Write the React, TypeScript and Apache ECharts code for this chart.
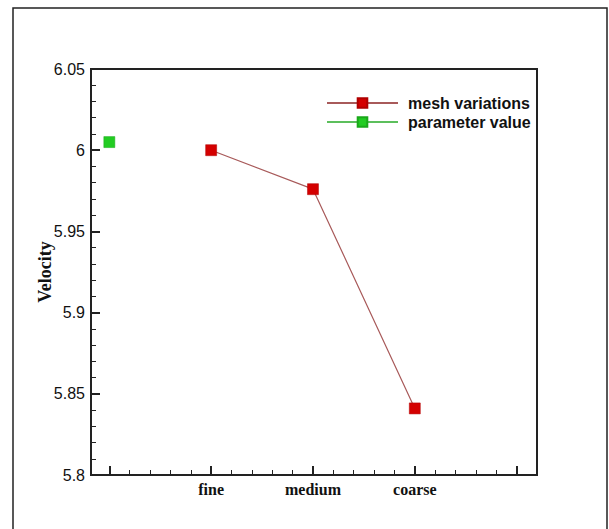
import React, { useEffect, useRef } from "react";
import * as echarts from "echarts";

const categories = ["fine", "medium", "coarse"];
const categoryPositions = [1, 2, 3];
const meshValues = [6.0, 5.976, 5.841];
const parameterPosition = 0;
const parameterValue = 6.005;
const xMajorTicks = [0, 1, 2, 3, 4];
const xMinorTicks = [
  0.2, 0.4, 0.6, 0.8, 1.2, 1.4, 1.6, 1.8, 2.2, 2.4, 2.6, 2.8, 3.2, 3.4, 3.6, 3.8,
];

export default function App() {
  const ref = useRef<HTMLDivElement>(null);
  useEffect(() => {
    if (!ref.current) return;
    const chart = echarts.init(ref.current, null, { renderer: "svg" });
    const xMin = -0.18;
    const xMax = 4.2;
    chart.setOption({
      animation: false,
      backgroundColor: "#ffffff",
      graphic: [
        {
          type: "rect",
          shape: { x: 13, y: 8, width: 594, height: 540 },
          style: { fill: "none", stroke: "#222", lineWidth: 1.5 },
          silent: true,
        },
      ],
      grid: {
        left: 91,
        right: 72,
        top: 69,
        bottom: 54,
        show: true,
        borderColor: "#222",
        borderWidth: 2,
        backgroundColor: "transparent",
      },
      legend: {
        orient: "vertical",
        left: 321,
        top: 90,
        itemWidth: 71,
        itemHeight: 12,
        itemGap: 3,
        data: ["mesh variations", "parameter value"],
        textStyle: {
          fontFamily: "Liberation Sans, Arial, sans-serif",
          fontSize: 16,
          fontWeight: "bold",
          color: "#111",
          padding: [0, 0, 0, 5],
        },
      },
      xAxis: [
        {
          type: "value",
          min: xMin,
          max: xMax,
          position: "bottom",
          splitLine: { show: false },
          axisLine: { show: true, onZero: false, lineStyle: { color: "#222", width: 2 } },
          axisTick: {
            show: true,
            inside: true,
            length: 9,
            customValues: xMajorTicks,
            lineStyle: { color: "#222", width: 2 },
          },
          axisLabel: {
            show: true,
            customValues: categoryPositions,
            formatter: (v: number) => {
              const i = categoryPositions.indexOf(Math.round(v));
              return i >= 0 ? categories[i] : "";
            },
            fontFamily: "Liberation Serif, Times New Roman, serif",
            fontWeight: "bold",
            fontSize: 16,
            color: "#111",
            margin: 6,
          },
        },
        {
          type: "value",
          min: xMin,
          max: xMax,
          position: "bottom",
          splitLine: { show: false },
          axisLine: { show: false, onZero: false },
          axisTick: {
            show: true,
            inside: true,
            length: 5,
            customValues: xMinorTicks,
            lineStyle: { color: "#222", width: 1 },
          },
          axisLabel: { show: false },
        },
      ],
      yAxis: {
        type: "value",
        min: 5.8,
        max: 6.05,
        interval: 0.05,
        name: "Velocity",
        nameLocation: "middle",
        nameRotate: 90,
        nameGap: 37,
        nameMoveOverlap: false,
        nameTextStyle: {
          fontFamily: "Liberation Serif, Times New Roman, serif",
          fontWeight: "bold",
          fontSize: 18,
          color: "#111",
        },
        splitLine: { show: false },
        axisLine: { show: true, onZero: false, lineStyle: { color: "#222", width: 2 } },
        axisTick: {
          show: true,
          inside: true,
          length: 9,
          lineStyle: { color: "#222", width: 2 },
        },
        minorTick: {
          show: true,
          splitNumber: 5,
          length: 5,
          lineStyle: { color: "#222", width: 1 },
        },
        axisLabel: {
          fontFamily: "Liberation Sans, Arial, sans-serif",
          fontSize: 16,
          color: "#111",
          margin: 6,
          formatter: (v: number) => String(Math.round(v * 100) / 100),
        },
      },
      series: [
        {
          name: "mesh variations",
          type: "line",
          xAxisIndex: 0,
          data: categoryPositions.map((x, i) => [x, meshValues[i]]),
          symbol: "rect",
          symbolSize: 11,
          lineStyle: { color: "#a85a5a", width: 1.2 },
          itemStyle: { color: "#d40000", borderColor: "#b00000", borderWidth: 0.5 },
        },
        {
          name: "parameter value",
          type: "line",
          xAxisIndex: 0,
          data: [[parameterPosition, parameterValue]],
          symbol: "rect",
          symbolSize: 11,
          lineStyle: { color: "#5cbf5c", width: 1.2 },
          itemStyle: { color: "#22cc22", borderColor: "#1aa81a", borderWidth: 0.5 },
        },
      ],
    });
    return () => chart.dispose();
  }, []);
  return (
    <div
      ref={ref}
      style={{ position: "absolute", left: 0, top: 0, width: 609, height: 529 }}
    />
  );
}
